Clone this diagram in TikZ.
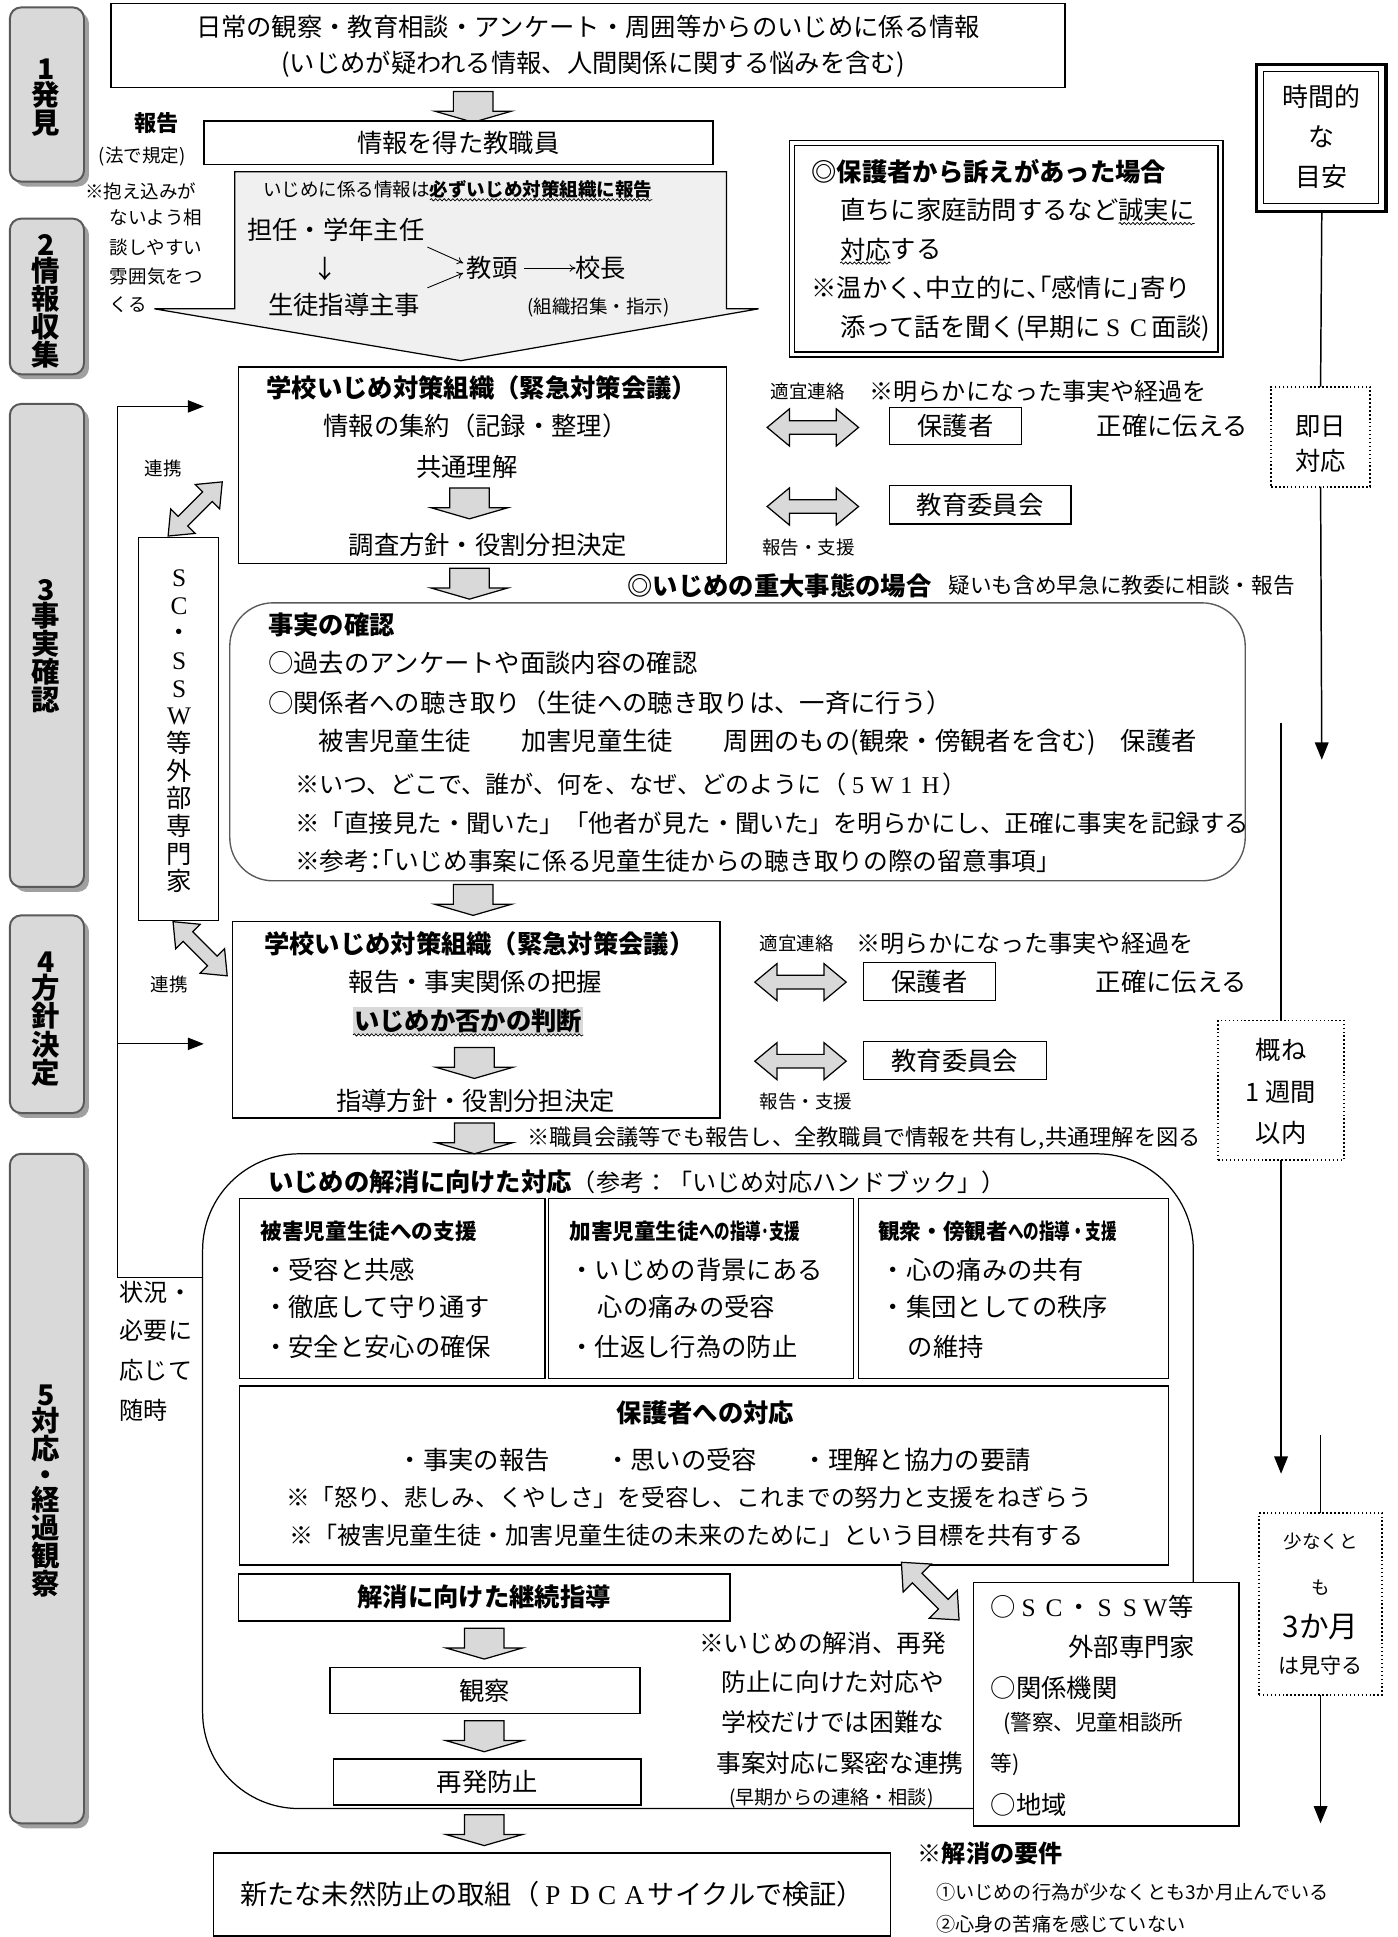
\documentclass[tikz,border=0pt]{standalone}
\usepackage{fontspec}
\usepackage{graphicx}
\setmainfont{Noto Sans CJK JP}
\newfontfamily\serifl{Liberation Serif}
\usetikzlibrary{decorations.pathmorphing,arrows.meta,calc}
\definecolor{lgray}{HTML}{D9D9D9}
\definecolor{cgray}{HTML}{F0F0F0}
\definecolor{sgray}{HTML}{A0A0A0}
\definecolor{dgray}{HTML}{595959}
\newcommand\fsz[1]{\fontsize{#1}{#1}\selectfont}
\newcommand\fwl[1]{\makebox[1em]{\serifl #1}}
\newcommand\halfp{\addfontfeature{RawFeature=+halt}}
\tikzset{
  every node/.style={inner sep=0pt, outer sep=0pt},
  tx/.style={font=\fsz{20.5}},
  sm/.style={font=\fsz{15}},
  bx/.style={font=\fsz{20.5}\bfseries},
  box/.style={draw, line width=1.2pt, fill=white},
  stagebox/.style={draw=dgray, line width=1.6pt, rounded corners=9pt, fill=lgray},
  stageshadow/.style={fill=sgray, rounded corners=9pt},
  stagetext/.style={font=\fontsize{23}{20.8}\selectfont\bfseries, align=center},
  garrow/.style={draw, line width=1pt, fill=lgray, line join=miter},
  tline/.style={line width=1.2pt},
  tarrow/.style={line width=1.2pt, -{Triangle[length=14pt,width=11pt]}},
  larrow/.style={line width=1pt, -{Triangle[length=13pt,width=10pt]}},
  thinarr/.style={line width=0.7pt, -{To[length=5pt,width=6pt]}},
  dotbox/.style={draw, dotted, line width=1.4pt, fill=white},
  wavy/.style={decorate, decoration={snake, amplitude=0.9pt, segment length=3.5pt}, line width=0.6pt},
}
\newcommand\rectnode[6][]{%
  \pgfmathsetmacro\rnW{#5-#3}\pgfmathsetmacro\rnH{#6-#4}%
  \pgfmathsetmacro\rnX{(#3+#5)/2}\pgfmathsetmacro\rnY{(#4+#6)/2}%
  \node[box, minimum width=\rnW pt, minimum height=\rnH pt, #1] (#2) at (\rnX,\rnY) {};}
\newcommand\bdarr[2]{%
  \draw[garrow] (#1-16,#2) -- (#1+16,#2) -- (#1+16,#2+16) -- (#1+31,#2+16) -- (#1,#2+25) -- (#1-31,#2+16) -- (#1-16,#2+16) -- cycle;}
\newcommand\dblarr[6]{%
  \begin{scope}[shift={(#1,#2)}, rotate=#4]
  \pgfmathsetmacro\dahl{#3/2}%
  \draw[garrow] (-\dahl,0) -- (-\dahl+#5,-#6) -- (-\dahl+#5,-5.5) -- (\dahl-#5,-5.5) -- (\dahl-#5,-#6) -- (\dahl,0) -- (\dahl-#5,#6) -- (\dahl-#5,5.5) -- (-\dahl+#5,5.5) -- (-\dahl+#5,#6) -- cycle;
  \end{scope}}
\begin{document}
\begin{tikzpicture}[x=1pt,y=-1pt]
\useasboundingbox (0,0) rectangle (1131,1568);
\fill[white] (0,0) rectangle (1131,1568);

% ---------- stage boxes
\fill[stageshadow] (12,10) rectangle (72,151);
\draw[stagebox] (8,6) rectangle (68,147);
\node[stagetext] (s1) at (37,79) {1\\発\\見};
\fill[stageshadow] (12,181) rectangle (72,307);
\draw[stagebox] (8,177) rectangle (68,303);
\node[stagetext] (s2) at (37,244) {2\\情\\報\\収\\集};
\fill[stageshadow] (12,331) rectangle (72,722);
\draw[stagebox] (8,327) rectangle (68,718);
\node[stagetext] (s3) at (37,523) {3\\事\\実\\確\\認};
\fill[stageshadow] (12,745) rectangle (72,905);
\draw[stagebox] (8,741) rectangle (68,901);
\node[stagetext] (s4) at (37,825) {4\\方\\針\\決\\定};
\fill[stageshadow] (12,938) rectangle (72,1480);
\draw[stagebox] (8,934) rectangle (68,1476);
\node[stagetext] (s5) at (37,1207) {5\\対\\応\\・\\経\\過\\観\\察};

% ---------- top
\rectnode{top}{90}{3}{862}{71}
\node[tx] (t1) at (476,22) {日常の観察・教育相談・アンケート・周囲等からのいじめに係る情報};
\node[tx] (t2) at (480,52) {(いじめが疑われる情報、人間関係に関する悩みを含む)};
\bdarr{383}{74}
\rectnode{staff}{165}{98}{577}{133}
\node[tx] at (staff) {情報を得た教職員};

\node[font=\fsz{18}\bfseries] (hokoku) at (127,100) {報告};
\node[sm] (hou) at (115,127) {(法で規定)};
\node[sm, anchor=west] at (69,155) {※抱え込みが};
\node[sm, anchor=west] at (89,176) {ないよう相};
\node[sm, anchor=west] at (89,200) {談しやすい};
\node[sm, anchor=west] at (89,224) {雰囲気をつ};
\node[sm, anchor=west] at (89,247) {くる};

% callout
\draw[garrow, fill=cgray] (190,139) -- (588,139) -- (588,250) -- (614,250) -- (373,292) -- (125,250) -- (190,250) -- cycle;
\node[sm, anchor=west] (c1) at (213,153) {いじめに係る情報は};
\node[sm, anchor=west, font=\fsz{15}\bfseries] (c2) at (c1.east) {必ずいじめ対策組織に報告};
\draw[wavy] ($(c2.south west)+(0,1.5)$) -- ($(c2.south east)+(0,1.5)$);
\node[tx, anchor=west] (tan) at (200,186) {担任・学年主任};
\node[tx] (dar) at (263,218) {↓};
\node[tx, anchor=west] (seito) at (217,247) {生徒指導主事};
\node[tx, anchor=west] (kyoto) at (378,217) {教頭};
\node[tx, anchor=west] (kocho) at (466,217) {校長};
\draw[thinarr] ($(kyoto.east)+(5,0)$) -- (kocho.west);
\coordinate (ua) at (346,200);
\coordinate (la) at (346,233);
\draw[thinarr] (ua) -- ($(kyoto.west)+(-3,-4)$);
\draw[thinarr] (la) -- ($(kyoto.west)+(-3,4)$);
\node[sm, anchor=west] (shosh) at (427,249) {(組織招集・指示)};

% parent complaint box
\rectnode[double distance=3pt, line width=1pt]{pc}{641}{116}{988}{287}
\node[bx, anchor=west] at (657,139) {◎保護者から訴えがあった場合};
\node[tx, anchor=west] (p1) at (680,170) {直ちに家庭訪問するなど};
\node[tx, anchor=west] (p1b) at (p1.east) {誠実に};
\draw[wavy] ($(p1b.south west)+(0,1.5)$) -- ($(p1b.south east)+(0,1.5)$);
\node[tx, anchor=west] (p2) at (680,202) {対応};
\node[tx, anchor=west] at (p2.east) {する};
\draw[wavy] ($(p2.south west)+(0,1.5)$) -- ($(p2.south east)+(0,1.5)$);
\node[tx, anchor=west, font=\fsz{20.5}\halfp] at (657,233) {※温かく、中立的に、「感情に」寄り};
\node[tx, anchor=west] at (680,266) {添って話を聞く(早期に\fwl{S}\fwl{C}面談)};

% ---------- time line
\draw[line width=2.6pt] (1017,52) rectangle (1122,171);
\draw[line width=1pt] (1023,58) rectangle (1116,165);
\node[font=\fsz{21}] at (1070,78) {時間的};
\node[font=\fsz{21}] at (1070,111) {な};
\node[font=\fsz{21}] at (1070,143) {目安};
\rectnode[dotbox]{sokujitsu}{1029}{313}{1109}{394}
\draw[tline] (1070,171) -- (sokujitsu.north);
\node[tx] at (1069,345) {即日};
\node[tx] at (1069,373) {対応};
\coordinate (ta1) at (1070,615);
\draw[tarrow] (sokujitsu.south) -- (ta1);
\rectnode[dotbox]{week}{986}{826}{1088}{939}
\coordinate (tl2) at (1037,585);
\draw[tline] (tl2) -- (week.north);
\node[tx] at (1037,850) {概ね};
\node[tx] at (1037,884) {1 週間};
\node[tx] at (1037,917) {以内};
\coordinate (ta2) at (1037,1193);
\draw[tarrow] (week.south) -- (ta2);
\rectnode[dotbox]{month}{1019}{1225}{1119}{1372}
\coordinate (tl3) at (1069,1162);
\draw[tline] (tl3) -- (month.north);
\node[sm] at (1069,1248) {少なくと};
\node[sm] at (1069,1285) {も};
\node[font=\fsz{24}] at (1069,1317) {3か月};
\node[font=\fsz{17}] at (1069,1348) {は見守る};
\coordinate (ta3) at (1069,1476);
\draw[tarrow] (month.south) -- (ta3);

% ---------- school box 1
\rectnode{sb1}{193}{297}{588}{456}
\node[bx] at (390,314) {学校いじめ対策組織（緊急対策会議）};
\node[tx] at (385,345) {情報の集約（記録・整理）};
\node[tx] at (378,378) {共通理解};
\bdarr{380}{395}
\node[tx] at (395,441) {調査方針・役割分担決定};

\node[sm, anchor=west] at (624,317) {適宜連絡};
\node[font=\fsz{19.5}, anchor=west] at (704,317) {※明らかになった事実や経過を};
\dblarr{658}{346}{74}{0}{18}{15}
\rectnode{par1}{720}{330}{827}{360}
\node[tx] at (par1) {保護者};
\node[tx, anchor=west] at (888,345) {正確に伝える};
\dblarr{658}{410}{74}{0}{18}{15}
\rectnode{boe1}{720}{393}{867}{424}
\node[tx] at (boe1) {教育委員会};
\node[sm, anchor=west] at (617,443) {報告・支援};

% left link line and SC column
\coordinate (la1) at (165,329);
\coordinate (la2) at (165,845);
\draw[tline] (95,329) -- (95,1034) -- (164,1034);
\draw[larrow] (95,329) -- (la1);
\draw[larrow] (95,845) -- (la2);
\rectnode{scol}{112}{435}{177}{745}
\node[font=\fontsize{20.5}{22.4}\selectfont, align=center] at (145,592) {\fwl{S}\\\fwl{C}\\・\\\fwl{S}\\\fwl{S}\\\fwl{W}\\等\\外\\部\\専\\門\\家};
\node[sm] at (132,379) {連携};
\node[sm] at (137,797) {連携};
\dblarr{158}{412}{62}{45}{17}{14}
\dblarr{162}{768}{62}{-45}{17}{14}

% serious case
\bdarr{380}{460}
\node[bx, anchor=west] at (508,474) {◎いじめの重大事態の場合};
\node[font=\fsz{17.5}, anchor=west] at (768,474) {疑いも含め早急に教委に相談・報告};

% ---------- fact box
\rectnode[rounded corners=35pt, draw=dgray, line width=1.1pt]{fb}{186}{488}{1008}{713}
\node[bx, anchor=west] at (217,506) {事実の確認};
\node[tx, anchor=west] at (217,537) {○過去のアンケートや面談内容の確認};
\node[tx, anchor=west] at (217,569) {○関係者への聴き取り（生徒への聴き取りは、一斉に行う）};
\node[tx, anchor=west] at (258,601) {被害児童生徒　　加害児童生徒　　周囲のもの(観衆・傍観者を含む)　保護者};
\node[font=\fsz{19.5}, anchor=west] at (239,635) {※いつ、どこで、誰が、何を、なぜ、どのように（\fwl{5}\fwl{W}\fwl{1}\fwl{H}）};
\node[font=\fsz{19.8}, anchor=west] at (239,666) {※「直接見た・聞いた」「他者が見た・聞いた」を明らかにし、正確に事実を記録する};
\node[tx, anchor=west, font=\fsz{20}\halfp] at (239,697) {※参考：「いじめ事案に係る児童生徒からの聴き取りの際の留意事項」};
\bdarr{383}{716}

% ---------- school box 2
\rectnode{sb2}{188}{746}{583}{905}
\node[bx] at (388,764) {学校いじめ対策組織（緊急対策会議）};
\node[tx] at (385,795) {報告・事実関係の把握};
\node[bx, fill=lgray, inner sep=1pt] (judge) at (379,826) {いじめか否かの判断};
\draw[wavy] ($(judge.south west)+(0,1)$) -- ($(judge.south east)+(0,1)$);
\bdarr{384}{848}
\node[tx] at (385,891) {指導方針・役割分担決定};

\node[sm, anchor=west] at (615,764) {適宜連絡};
\node[font=\fsz{19.5}, anchor=west] at (693,764) {※明らかになった事実や経過を};
\dblarr{648}{795}{74}{0}{18}{15}
\rectnode{par2}{699}{779}{806}{810}
\node[tx] at (par2) {保護者};
\node[tx, anchor=west] at (887,795) {正確に伝える};
\dblarr{648}{859}{74}{0}{18}{15}
\rectnode{boe2}{699}{843}{847}{874}
\node[tx] at (boe2) {教育委員会};
\node[sm, anchor=west] at (615,892) {報告・支援};

\bdarr{384}{909}
\node[font=\fsz{18}, anchor=west] at (427,921) {※職員会議等でも報告し、全教職員で情報を共有し,共通理解を図る};

% ---------- big response box
\rectnode[rounded corners=78pt, line width=1pt, fill=none]{bb}{164}{934}{966}{1464}
\node[bx, anchor=west] (bbt) at (217,957) {いじめの解消に向けた対応};
\node[font=\fsz{19.5}, anchor=west] at (bbt.east) {（参考：「いじめ対応ハンドブック」）};

\rectnode{ra}{194}{970}{441}{1116}
\rectnode{rb}{444}{970}{691}{1116}
\rectnode{rc}{695}{970}{946}{1116}
\node[font=\fsz{17.5}\bfseries, anchor=west] at (211,997) {被害児童生徒への支援};
\node[tx, anchor=west] at (213,1028) {・受容と共感};
\node[tx, anchor=west] at (213,1058) {・徹底して守り通す};
\node[tx, anchor=west] at (213,1090) {・安全と安心の確保};
\node[font=\fsz{17.5}\bfseries, anchor=west] at (461,997) {加害児童生徒\scalebox{0.72}[1]{への指導･支援}};
\node[tx, anchor=west] at (461,1028) {・いじめの背景にある};
\node[tx, anchor=west] at (484,1058) {心の痛みの受容};
\node[tx, anchor=west] at (461,1090) {・仕返し行為の防止};
\node[font=\fsz{17.5}\bfseries, anchor=west] at (711,997) {観衆・傍観者\scalebox{0.72}[1]{への指導・支援}};
\node[tx, anchor=west] at (713,1028) {・心の痛みの共有};
\node[tx, anchor=west] at (713,1058) {・集団としての秩序};
\node[tx, anchor=west] at (735,1090) {の維持};

\rectnode{rp}{194}{1122}{946}{1267}
\node[bx] at (571,1144) {保護者への対応};
\node[tx, anchor=west] at (322,1182) {・事実の報告};
\node[tx, anchor=west] at (490,1182) {・思いの受容};
\node[tx, anchor=west] at (650,1182) {・理解と協力の要請};
\node[font=\fsz{19.2}, anchor=west] at (232,1212) {※「怒り、悲しみ、くやしさ」を受容し、これまでの努力と支援をねぎらう};
\node[font=\fsz{19.5}, anchor=west] at (234,1243) {※「被害児童生徒・加害児童生徒の未来のために」という目標を共有する};

\rectnode{cont}{193}{1274}{591}{1312}
\node[bx] at (cont) {解消に向けた継続指導};
\bdarr{392}{1318}
\rectnode{obs}{267}{1350}{518}{1387}
\node[tx] at (obs) {観察};
\bdarr{392}{1393}
\rectnode{prev}{270}{1424}{519}{1461}
\node[tx] at (prev) {再発防止};

\node[font=\fsz{20}] at (666,1330) {※いじめの解消、再発};
\node[font=\fsz{20}] at (674,1362) {防止に向けた対応や};
\node[font=\fsz{20}] at (674,1394) {学校だけでは困難な};
\node[font=\fsz{20}] at (680,1427) {事案対応に緊密な連携};
\node[font=\fsz{15.5}] at (673,1456) {(早期からの連絡・相談)};

% outside experts box
\rectnode{sc}{788}{1281}{1003}{1478}
\node[tx, anchor=west] at (802,1301) {○\fwl{S}\fwl{C}・\fwl{S}\fwl{S}\fwl{W}等};
\node[tx, anchor=west] at (865,1333) {外部専門家};
\node[tx, anchor=west] at (802,1366) {○関係機関};
\node[font=\fsz{17.5}, anchor=west] at (812,1395) {(警察、児童相談所};
\node[font=\fsz{17.5}, anchor=west] at (802,1428) {等)};
\node[tx, anchor=west] at (802,1461) {○地域};
\dblarr{753}{1288}{66}{-45}{18}{16}

% left side note
\node[font=\fsz{19.5}, anchor=west] at (97,1046) {状況・};
\node[font=\fsz{19.5}, anchor=west] at (97,1077) {必要に};
\node[font=\fsz{19.5}, anchor=west] at (97,1109) {応じて};
\node[font=\fsz{19.5}, anchor=west] at (97,1142) {随時};

% ---------- final
\bdarr{392}{1469}
\rectnode{fin}{173}{1500}{721}{1567}
\node[font=\fsz{22}] at (447,1533) {新たな未然防止の取組（\fwl{P}\fwl{D}\fwl{C}\fwl{A}サイクルで検証）};

\node[font=\fsz{19.5}\bfseries, anchor=west] at (743,1500) {※解消の要件};
\node[font=\fsz{15.5}, anchor=west] at (758,1532) {①いじめの行為が少なくとも3か月止んでいる};
\node[font=\fsz{15.5}, anchor=west] at (758,1558) {②心身の苦痛を感じていない};
\end{tikzpicture}
\end{document}
